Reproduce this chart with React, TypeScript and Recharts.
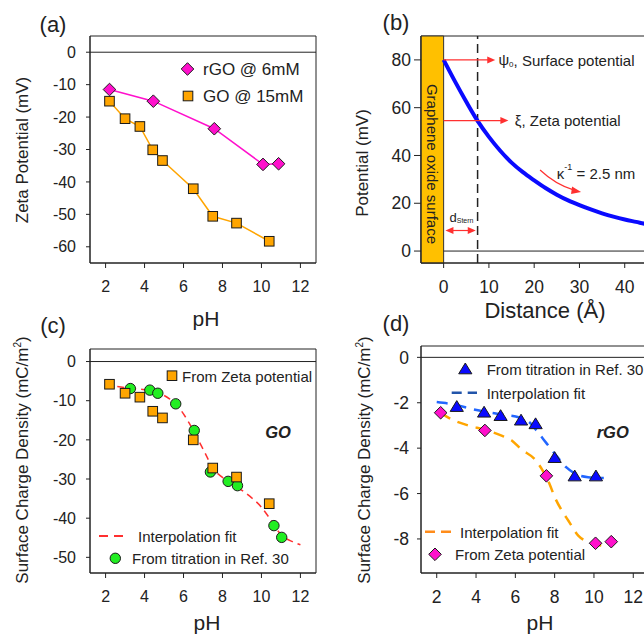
import React from "react";
import {
  ComposedChart,
  Line,
  XAxis,
  YAxis,
  ReferenceLine,
  ReferenceArea,
  ReferenceDot,
} from "recharts";

const FONT = '"Liberation Sans", Arial, Helvetica, sans-serif';
const INK = "#222";
const RED = "#ff3030";
const ORANGE = "#ffa500";
const MAGENTA = "#ff10cc";
const GREEN = "#22ee22";
const BLUE = "#0a0aff";

// (a) zeta potential vs pH
const rgoPH = [2.2, 4.45, 7.58, 10.08, 10.88];
const rgoZeta = [-11.5, -15.1, -23.6, -34.6, -34.4];
const goPH = [2.2, 3.0, 3.76, 4.42, 4.92, 6.5, 7.5, 8.72, 10.4];
const goZeta = [-15.1, -20.5, -22.9, -30.1, -33.4, -42.1, -50.6, -52.7, -58.3];

// (b) potential profile off the surface
const distance = [0, 2.5, 5, 7.5, 10, 12.5, 15, 17.5, 20, 22.5, 25, 27.5, 30, 32.5, 35, 37.5, 40, 42.5, 45, 47.5, 50];
const potential = [80, 71, 62.5, 54.5, 47.8, 42, 37, 33, 29.6, 26.4, 23.6, 21.2, 19.2, 17.4, 15.8, 14.4, 13.2, 12.2, 11.2, 10.4, 9.7];

// (c) GO surface charge density
const goChargeZeta = [-5.8, -8.1, -9.1, -12.7, -14.4, -20.0, -27.2, -29.5, -36.3];
const goTitrPH = [3.27, 4.27, 4.68, 5.6, 6.55, 7.38, 8.29, 8.77, 10.64, 11.04];
const goTitrCharge = [-6.9, -7.3, -8.1, -10.8, -17.6, -28.2, -30.6, -31.7, -41.9, -44.9];
const goFitPH = [2.6, 3.3, 4.0, 4.7, 5.3, 5.8, 6.3, 6.7, 7.1, 7.5, 8.0, 8.5, 9.0, 9.5, 10.0, 10.4, 10.8, 11.2, 11.6, 12.0];
const goFitCharge = [-6.4, -6.8, -7.2, -8.0, -9.6, -12.0, -15.8, -19.5, -23.3, -27.2, -29.6, -31.4, -32.9, -34.8, -37.2, -39.9, -43.0, -45.0, -46.0, -46.8];

// (d) rGO surface charge density
const rgoTitrPH = [3.02, 4.41, 5.25, 6.29, 7.03, 8.0, 9.02, 10.1];
const rgoTitrCharge = [-2.17, -2.42, -2.57, -2.77, -2.93, -4.42, -5.23, -5.23];
const rgoTitrFitPH = [2.0, 2.9, 3.8, 4.6, 5.4, 6.2, 6.7, 7.1, 7.6, 8.1, 8.6, 9.1, 9.7, 10.5];
const rgoTitrFitCharge = [-1.97, -2.08, -2.28, -2.42, -2.53, -2.65, -2.85, -3.25, -3.8, -4.35, -4.85, -5.15, -5.28, -5.32];
const rgoChargeZeta = [-2.44, -3.22, -5.22, -8.19, -8.12];
const rgoZetaFitPH = [2.2, 2.8, 3.6, 4.5, 5.3, 5.8, 6.3, 7.0, 7.4, 7.75, 8.0, 8.4, 8.7, 9.2, 9.6, 10.0, 10.5];
const rgoZetaFitCharge = [-2.45, -2.75, -3.0, -3.2, -3.45, -3.65, -4.05, -4.5, -5.0, -5.6, -6.15, -6.8, -7.2, -7.85, -8.1, -8.22, -8.3];

const PH_TICKS = [2, 4, 6, 8, 10, 12];

const pts = (xs: number[], ys: number[]) => xs.map((x, i) => ({ x, y: ys[i] }));

type MP = { cx: number; cy: number; fill: string; size: number };

const Diamond = ({ cx, cy, fill, size }: MP) => (
  <path d={`M${cx},${cy - size}L${cx + size},${cy}L${cx},${cy + size}L${cx - size},${cy}Z`} fill={fill} stroke="#1a1a1a" strokeWidth={1} />
);
const Square = ({ cx, cy, fill, size }: MP) => (
  <rect x={cx - size} y={cy - size} width={size * 2} height={size * 2} fill={fill} stroke="#1a1a1a" strokeWidth={1} />
);
const Circle = ({ cx, cy, fill, size }: MP) => (
  <circle cx={cx} cy={cy} r={size} fill={fill} stroke="#1a1a1a" strokeWidth={1} />
);
const Triangle = ({ cx, cy, fill, size }: MP) => (
  <path d={`M${cx},${cy - size}L${cx + size * 1.1},${cy + size * 0.8}L${cx - size * 1.1},${cy + size * 0.8}Z`} fill={fill} stroke="#1a1a1a" strokeWidth={1} />
);

const dotOf = (M: (p: MP) => React.ReactElement, fill: string, size: number) => (p: any) => {
  if (p.cx == null || p.cy == null) return <g key={p.index} />;
  return <g key={p.index}><M cx={p.cx} cy={p.cy} fill={fill} size={size} /></g>;
};

const tick = (size: number) => ({ fontSize: size, fill: INK, fontFamily: FONT });
const AX = { stroke: INK, strokeWidth: 1 };

const arrowHead = (dir: 1 | -1) => (p: any) => (
  <path d={`M${p.cx},${p.cy}L${p.cx - dir * 8},${p.cy - 3.5}L${p.cx - dir * 8},${p.cy + 3.5}Z`} fill={RED} />
);

const label = (content: React.ReactNode, size = 15) => (p: any) => (
  <text x={p.cx} y={p.cy} dominantBaseline="central" fontSize={size} fill={INK} fontFamily={FONT}>
    {content}
  </text>
);

const kappaArrow = (p: any) => {
  const { cx, cy } = p;
  return (
    <g>
      <path d={`M${cx},${cy} Q${cx + 16},${cy + 15} ${cx + 34},${cy + 20}`} fill="none" stroke={RED} strokeWidth={1.2} />
      <path d={`M${cx + 41},${cy + 22}L${cx + 32},${cy + 16.5}L${cx + 31},${cy + 24}Z`} fill={RED} />
    </g>
  );
};

function Txt({ x, y, size, children, anchor = "middle", rotate = 0, style = {} }: any) {
  const tx = anchor === "start" ? "translate(0,-50%)" : "translate(-50%,-50%)";
  return (
    <div
      style={{
        position: "absolute",
        left: x,
        top: y,
        fontSize: size,
        lineHeight: 1,
        whiteSpace: "nowrap",
        transform: `${tx} rotate(${rotate}deg)`,
        ...style,
      }}
    >
      {children}
    </div>
  );
}

const m2 = (
  <span>
    (mC/m<span style={{ fontSize: 10, verticalAlign: "7px" }}>2</span>)
  </span>
);

export default function App() {
  return (
    <div style={{ position: "fixed", left: 0, top: 0, width: 644, height: 634, overflow: "hidden", background: "#fff", fontFamily: FONT, color: INK }}>
      {/* (a) */}
      <div style={{ position: "absolute", left: 0, top: 0 }}>
        <ComposedChart width={322} height={317} margin={{ top: 36, right: 6, bottom: 14, left: 30 }}>
          <XAxis type="number" dataKey="x" domain={[1.2, 12.8]} ticks={PH_TICKS} interval={0} allowDataOverflow tickSize={5} tickMargin={13} tick={tick(16)} axisLine={AX} tickLine={AX} height={40} />
          <YAxis type="number" domain={[-65, 5]} ticks={[0, -10, -20, -30, -40, -50, -60]} interval={0} allowDataOverflow tickSize={4} tickMargin={10} tick={tick(16)} axisLine={AX} tickLine={AX} width={60} />
          <ReferenceArea x1={1.2} x2={12.8} y1={-65} y2={5} fill="none" stroke={INK} />
          <ReferenceLine y={0} stroke={INK} />
          <Line data={pts(goPH, goZeta)} dataKey="y" type="linear" stroke={ORANGE} strokeWidth={1.5} dot={dotOf(Square, ORANGE, 4.8)} activeDot={false} isAnimationActive={false} />
          <Line data={pts(rgoPH, rgoZeta)} dataKey="y" type="linear" stroke={MAGENTA} strokeWidth={1.5} dot={dotOf(Diamond, MAGENTA, 6.3)} activeDot={false} isAnimationActive={false} />
        </ComposedChart>
      </div>

      {/* (b) */}
      <div style={{ position: "absolute", left: 322, top: 0 }}>
        <ComposedChart width={360} height={317} margin={{ top: 36, right: 12, bottom: 14, left: 39 }}>
          <XAxis type="number" dataKey="x" domain={[-5, 50]} ticks={[0, 10, 20, 30, 40]} interval={0} allowDataOverflow tickSize={5} tickMargin={13} tick={tick(17.5)} axisLine={AX} tickLine={AX} height={40} />
          <YAxis type="number" domain={[-5, 90]} ticks={[0, 20, 40, 60, 80]} interval={0} allowDataOverflow tickSize={7} tickMargin={3} tick={tick(17.5)} axisLine={AX} tickLine={AX} width={60} />
          <ReferenceArea x1={-5} x2={50} y1={-5} y2={90} fill="none" stroke={INK} />
          <ReferenceLine segment={[{ x: 0, y: 0 }, { x: 50, y: 0 }]} stroke={INK} />
          <ReferenceArea x1={-5} x2={0} y1={-5} y2={90} fill="#ffc000" fillOpacity={1} stroke="#333" />
          <ReferenceLine x={7.5} stroke={INK} strokeWidth={1.5} strokeDasharray="9 5" />
          <Line data={pts(distance, potential)} dataKey="y" type="monotone" stroke={BLUE} strokeWidth={4} dot={false} activeDot={false} isAnimationActive={false} />
          <ReferenceLine segment={[{ x: 0, y: 80 }, { x: 10, y: 80 }]} stroke={RED} strokeWidth={1.2} />
          <ReferenceDot x={11.4} y={80} r={0} shape={arrowHead(1)} />
          <ReferenceDot x={12.1} y={80} r={0} shape={label(<>ψ<tspan fontSize={8} dy={4}>0</tspan><tspan dy={-4}>, Surface potential</tspan></>)} />
          <ReferenceLine segment={[{ x: 0, y: 54.6 }, { x: 13, y: 54.6 }]} stroke={RED} strokeWidth={1.2} />
          <ReferenceDot x={14.3} y={54.6} r={0} shape={arrowHead(1)} />
          <ReferenceDot x={15.7} y={54.6} r={0} shape={label("ξ, Zeta potential")} />
          <ReferenceDot x={21.3} y={33.9} r={0} shape={kappaArrow} />
          <ReferenceDot x={25} y={32.6} r={0} shape={label(<>κ<tspan fontSize={9} dy={-6}>-1</tspan><tspan dy={6}> = 2.5 nm</tspan></>)} />
          <ReferenceLine segment={[{ x: 1.5, y: 8.6 }, { x: 6, y: 8.6 }]} stroke={RED} strokeWidth={1.2} />
          <ReferenceDot x={0.4} y={8.6} r={0} shape={arrowHead(-1)} />
          <ReferenceDot x={7.1} y={8.6} r={0} shape={arrowHead(1)} />
          <ReferenceDot x={1.3} y={14.1} r={0} shape={label(<>d<tspan fontSize={7} dy={3}>Stern</tspan></>, 13)} />
        </ComposedChart>
      </div>

      {/* (c) */}
      <div style={{ position: "absolute", left: 0, top: 317 }}>
        <ComposedChart width={322} height={317} margin={{ top: 32, right: 6, bottom: 21, left: 30 }}>
          <XAxis type="number" dataKey="x" domain={[1.2, 12.8]} ticks={PH_TICKS} interval={0} allowDataOverflow tickSize={5} tickMargin={13} tick={tick(16)} axisLine={AX} tickLine={AX} height={40} />
          <YAxis type="number" domain={[-54, 3.2]} ticks={[0, -10, -20, -30, -40, -50]} interval={0} allowDataOverflow tickSize={4} tickMargin={10} tick={tick(16)} axisLine={AX} tickLine={AX} width={60} />
          <ReferenceArea x1={1.2} x2={12.8} y1={-54} y2={3.2} fill="none" stroke={INK} />
          <ReferenceLine y={0} stroke={INK} />
          <Line data={pts(goFitPH, goFitCharge)} dataKey="y" type="monotone" stroke={RED} strokeWidth={1.5} strokeDasharray="7 5" dot={false} activeDot={false} isAnimationActive={false} />
          <Line data={pts(goTitrPH, goTitrCharge)} dataKey="y" stroke="none" dot={dotOf(Circle, GREEN, 5.2)} activeDot={false} isAnimationActive={false} />
          <Line data={pts(goPH, goChargeZeta)} dataKey="y" stroke="none" dot={dotOf(Square, ORANGE, 4.8)} activeDot={false} isAnimationActive={false} />
        </ComposedChart>
      </div>

      {/* (d) */}
      <div style={{ position: "absolute", left: 322, top: 317 }}>
        <ComposedChart width={360} height={317} margin={{ top: 29, right: 33, bottom: 21, left: 39 }}>
          <XAxis type="number" dataKey="x" domain={[1.2, 12.8]} ticks={PH_TICKS} interval={0} allowDataOverflow tickSize={5} tickMargin={13} tick={tick(17.5)} axisLine={AX} tickLine={AX} height={40} />
          <YAxis type="number" domain={[-9.5, 0.5]} ticks={[0, -2, -4, -6, -8]} interval={0} allowDataOverflow tickSize={4} tickMargin={8} tick={tick(17.5)} axisLine={AX} tickLine={AX} width={60} />
          <ReferenceArea x1={1.2} x2={12.8} y1={-9.5} y2={0.5} fill="none" stroke={INK} />
          <ReferenceLine y={0} stroke={INK} />
          <Line data={pts(rgoTitrFitPH, rgoTitrFitCharge)} dataKey="y" type="monotone" stroke="#2266ff" strokeWidth={2.5} strokeDasharray="11 8" dot={false} activeDot={false} isAnimationActive={false} />
          <Line data={pts(rgoZetaFitPH, rgoZetaFitCharge)} dataKey="y" type="monotone" stroke={ORANGE} strokeWidth={2.5} strokeDasharray="11 8" dot={false} activeDot={false} isAnimationActive={false} />
          <Line data={pts(rgoTitrPH, rgoTitrCharge)} dataKey="y" stroke="none" dot={dotOf(Triangle, BLUE, 6)} activeDot={false} isAnimationActive={false} />
          <Line data={pts(rgoPH, rgoChargeZeta)} dataKey="y" stroke="none" dot={dotOf(Diamond, MAGENTA, 6.3)} activeDot={false} isAnimationActive={false} />
        </ComposedChart>
      </div>

      {/* legend keys */}
      <svg width={644} height={634} style={{ position: "absolute", left: 0, top: 0, pointerEvents: "none" }}>
        <Diamond cx={187.5} cy={69} fill={MAGENTA} size={6.3} />
        <Square cx={188} cy={96} fill={ORANGE} size={4.8} />
        <Square cx={172} cy={375.7} fill={ORANGE} size={4.8} />
        <line x1={99} x2={125} y1={536} y2={536} stroke={RED} strokeWidth={1.8} strokeDasharray="9 6" />
        <Circle cx={115.3} cy={558.3} fill={GREEN} size={5.2} />
        <Triangle cx={465.3} cy={369} fill={BLUE} size={6} />
        <line x1={451.7} x2={477} y1={392.7} y2={392.7} stroke="#2255aa" strokeWidth={2.5} strokeDasharray="10 6" />
        <line x1={425} x2={452} y1={531.7} y2={531.7} stroke="#ff8c1a" strokeWidth={2.5} strokeDasharray="10 6" />
        <Diamond cx={435} cy={554.3} fill={MAGENTA} size={6.3} />
      </svg>

      {/* text */}
      <Txt x={53} y={25} size={22}>(a)</Txt>
      <Txt x={396} y={23} size={22}>(b)</Txt>
      <Txt x={53} y={326} size={22}>(c)</Txt>
      <Txt x={396} y={324} size={22}>(d)</Txt>

      <Txt x={22} y={150} size={17} rotate={-90}>Zeta Potential (mV)</Txt>
      <Txt x={362} y={163} size={17} rotate={-90}>Potential (mV)</Txt>
      <Txt x={22} y={460} size={17} rotate={-90}>Surface Charge Density {m2}</Txt>
      <Txt x={364} y={460} size={17} rotate={-90}>Surface Charge Density {m2}</Txt>

      <Txt x={206} y={318} size={21}>pH</Txt>
      <Txt x={545} y={311} size={22}>Distance (Å)</Txt>
      <Txt x={207} y={622} size={21}>pH</Txt>
      <Txt x={540} y={622} size={21}>pH</Txt>

      <Txt x={432} y={164} size={15} rotate={90}>Graphene oxide surface</Txt>

      <Txt x={203} y={69} size={17} anchor="start">rGO @ 6mM</Txt>
      <Txt x={203} y={96} size={17} anchor="start">GO @ 15mM</Txt>

      <Txt x={182} y={375.7} size={15} anchor="start">From Zeta potential</Txt>
      <Txt x={138} y={536} size={15} anchor="start">Interpolation fit</Txt>
      <Txt x={132} y={558.3} size={15} anchor="start">From titration in Ref. 30</Txt>
      <Txt x={278} y={432} size={16.5} style={{ fontWeight: "bold", fontStyle: "italic" }}>GO</Txt>

      <Txt x={486.7} y={369} size={15} anchor="start">From titration in Ref. 30</Txt>
      <Txt x={486.7} y={392.7} size={15} anchor="start">Interpolation fit</Txt>
      <Txt x={460} y={531.7} size={15} anchor="start">Interpolation fit</Txt>
      <Txt x={455} y={554.3} size={15} anchor="start">From Zeta potential</Txt>
      <Txt x={612.7} y={432} size={16.5} style={{ fontWeight: "bold", fontStyle: "italic" }}>rGO</Txt>
    </div>
  );
}
